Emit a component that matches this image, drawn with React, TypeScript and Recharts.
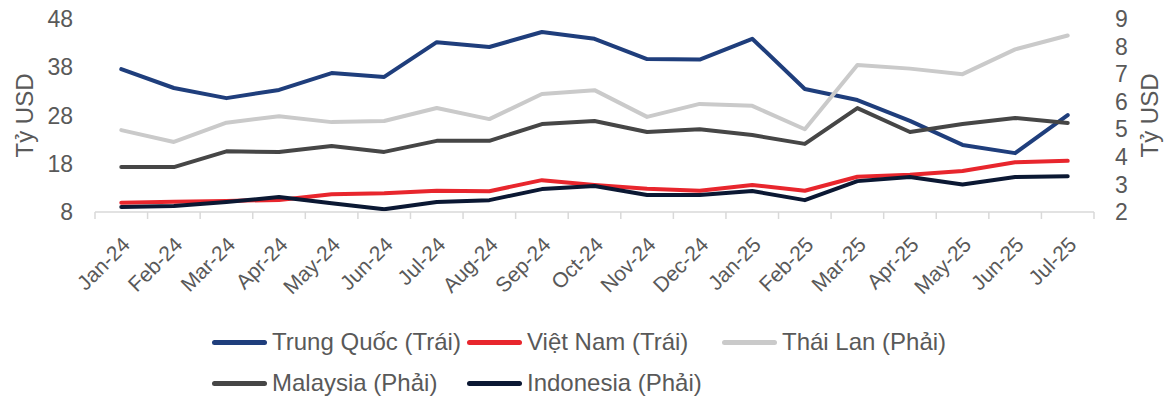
import React from 'react'
import { LineChart, Line, XAxis, YAxis } from 'recharts'

const months = ['Jan-24', 'Feb-24', 'Mar-24', 'Apr-24', 'May-24', 'Jun-24', 'Jul-24', 'Aug-24', 'Sep-24', 'Oct-24', 'Nov-24', 'Dec-24', 'Jan-25', 'Feb-25', 'Mar-25', 'Apr-25', 'May-25', 'Jun-25', 'Jul-25']

// left axis (Trái)
const trungQuoc = [37.6, 33.7, 31.6, 33.3, 36.8, 36.0, 43.2, 42.2, 45.3, 43.9, 39.7, 39.6, 43.9, 33.5, 31.2, 26.9, 21.9, 20.2, 28.1]
const vietNam = [9.9, 10.1, 10.3, 10.5, 11.7, 11.9, 12.4, 12.3, 14.6, 13.6, 12.8, 12.4, 13.6, 12.4, 15.3, 15.7, 16.5, 18.3, 18.6]
// right axis (Phải)
const thaiLan = [4.97, 4.54, 5.24, 5.47, 5.26, 5.3, 5.77, 5.37, 6.28, 6.42, 5.45, 5.92, 5.85, 5.0, 7.33, 7.2, 7.0, 7.9, 8.4]
const malaysia = [3.63, 3.63, 4.2, 4.18, 4.39, 4.18, 4.58, 4.58, 5.19, 5.3, 4.9, 5.0, 4.79, 4.47, 5.77, 4.9, 5.19, 5.41, 5.23]
const indonesia = [2.18, 2.22, 2.36, 2.54, 2.32, 2.1, 2.36, 2.43, 2.83, 2.94, 2.62, 2.62, 2.76, 2.43, 3.12, 3.27, 3.0, 3.27, 3.3]

const leftTicks = [8, 18, 28, 38, 48]
const rightTicks = [2, 3, 4, 5, 6, 7, 8, 9]

const series = [
  { key: 'trungQuoc', name: 'Trung Quốc (Trái)', color: '#1F3E7C', axis: 'left' },
  { key: 'vietNam', name: 'Việt Nam (Trái)', color: '#E8262D', axis: 'left' },
  { key: 'thaiLan', name: 'Thái Lan (Phải)', color: '#CACACA', axis: 'right' },
  { key: 'malaysia', name: 'Malaysia (Phải)', color: '#464646', axis: 'right' },
  { key: 'indonesia', name: 'Indonesia (Phải)', color: '#0B1833', axis: 'right' },
]

const data = months.map((m, i) => ({
  month: m,
  trungQuoc: trungQuoc[i],
  vietNam: vietNam[i],
  thaiLan: thaiLan[i],
  malaysia: malaysia[i],
  indonesia: indonesia[i],
}))

const W = 1165
const H = 398
const LEFT_W = 95
const RIGHT_W = 71
const BAND = (W - LEFT_W - RIGHT_W) / months.length
const FONT = '"Liberation Sans", Arial, sans-serif'
const TEXT = '#595959'

function MonthTick(props: any) {
  const { x, y, payload, index } = props
  const half = BAND / 2
  const ax = x + 10
  const ay = y + 34
  return (
    <g>
      <line x1={x - half} x2={x - half} y1={y} y2={y + 7} stroke="#d9d9d9" strokeWidth={1.5} />
      {index === months.length - 1 && (
        <line x1={x + half} x2={x + half} y1={y} y2={y + 7} stroke="#d9d9d9" strokeWidth={1.5} />
      )}
      <text x={ax} y={ay} transform={`rotate(-45, ${ax}, ${ay})`} textAnchor="end" fontSize={21} fill={TEXT} fontFamily={FONT}>
        {payload.value}
      </text>
    </g>
  )
}

function AxisTitle({ viewBox, side }: any) {
  const cy = viewBox.y + viewBox.height / 2
  const x = side === 'left' ? 33 : 1158
  return (
    <text x={x} y={cy} transform={`rotate(-90, ${x}, ${cy})`} textAnchor="middle" fontSize={24} fill={TEXT} fontFamily={FONT}>
      Tỷ USD
    </text>
  )
}

export default function App() {
  return (
    <div style={{ position: 'absolute', left: 0, top: 0, width: W, height: H, background: '#fff', fontFamily: FONT }}>
      <LineChart width={W} height={H} data={data} margin={{ top: 19, right: 0, bottom: 0, left: 0 }}>
        <XAxis
          dataKey="month"
          scale="point"
          padding={{ left: BAND / 2, right: BAND / 2 }}
          height={186}
          interval={0}
          tickSize={0}
          tickMargin={0}
          tickLine={false}
          axisLine={{ stroke: '#d9d9d9', strokeWidth: 1.5 }}
          tick={<MonthTick />}
        />
        <YAxis
          yAxisId="left"
          width={LEFT_W}
          domain={[8, 48]}
          ticks={leftTicks}
          interval={0}
          axisLine={false}
          tickLine={false}
          tickSize={0}
          tickMargin={22}
          tick={{ fontSize: 23, fill: TEXT, fontFamily: FONT }}
          label={<AxisTitle side="left" />}
        />
        <YAxis
          yAxisId="right"
          orientation="right"
          width={RIGHT_W}
          domain={[2, 9]}
          ticks={rightTicks}
          interval={0}
          axisLine={false}
          tickLine={false}
          tickSize={0}
          tickMargin={21}
          tick={{ fontSize: 23, fill: TEXT, fontFamily: FONT, textAnchor: 'start' }}
          label={<AxisTitle side="right" />}
        />
        {series.map((s) => (
          <Line
            key={s.key}
            yAxisId={s.axis}
            dataKey={s.key}
            name={s.name}
            stroke={s.color}
            strokeWidth={4}
            strokeLinecap="round"
            strokeLinejoin="round"
            dot={false}
            activeDot={false}
            isAnimationActive={false}
          />
        ))}
      </LineChart>
      <div
        style={{
          position: 'absolute',
          left: 212,
          top: 325,
          display: 'grid',
          gridTemplateColumns: '255px 255px 255px',
          rowGap: 7,
        }}
      >
        {series.map((s) => (
          <div key={s.key} style={{ display: 'flex', alignItems: 'center', height: 34 }}>
            <div style={{ width: 55, height: 5, borderRadius: 3, background: s.color, marginRight: 5 }} />
            <span style={{ fontSize: 24, color: TEXT, whiteSpace: 'nowrap', lineHeight: '34px' }}>{s.name}</span>
          </div>
        ))}
      </div>
    </div>
  )
}
